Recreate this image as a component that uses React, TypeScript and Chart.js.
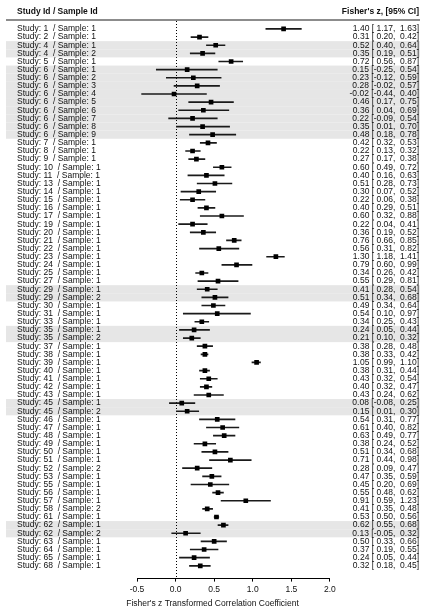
import React, { useEffect, useRef } from "react";
import { Chart, registerables } from "chart.js";

Chart.register(...registerables);

const studyIds = [1, 2, 4, 4, 5, 6, 6, 6, 6, 6, 6, 6, 6, 6, 7, 8, 9, 10, 11, 13, 14, 15, 16, 17, 19, 20, 21, 22, 23, 24, 25, 27, 29, 29, 30, 31, 33, 35, 35, 37, 38, 39, 40, 41, 42, 43, 45, 45, 46, 47, 48, 49, 50, 51, 52, 53, 55, 56, 57, 58, 61, 62, 62, 63, 64, 65, 68];
const sampleIds = [1, 1, 1, 2, 1, 1, 2, 3, 4, 5, 6, 7, 8, 9, 1, 1, 1, 1, 1, 1, 1, 1, 1, 1, 1, 1, 1, 1, 1, 1, 1, 1, 1, 2, 1, 1, 1, 1, 2, 1, 1, 1, 1, 1, 1, 1, 1, 2, 1, 1, 1, 1, 1, 1, 2, 1, 1, 1, 1, 2, 1, 1, 2, 1, 1, 1, 1];
const estimates = [1.40, 0.31, 0.52, 0.35, 0.72, 0.15, 0.23, 0.28, -0.02, 0.46, 0.36, 0.22, 0.35, 0.48, 0.42, 0.22, 0.27, 0.60, 0.40, 0.51, 0.30, 0.22, 0.40, 0.60, 0.22, 0.36, 0.76, 0.56, 1.30, 0.79, 0.34, 0.55, 0.41, 0.51, 0.49, 0.54, 0.34, 0.24, 0.21, 0.38, 0.38, 1.05, 0.38, 0.43, 0.40, 0.43, 0.08, 0.15, 0.54, 0.61, 0.63, 0.38, 0.51, 0.71, 0.28, 0.47, 0.45, 0.55, 0.91, 0.41, 0.53, 0.62, 0.13, 0.50, 0.37, 0.24, 0.32];
const ciLower = [1.17, 0.20, 0.40, 0.19, 0.56, -0.25, -0.12, -0.02, -0.44, 0.17, 0.04, -0.09, 0.01, 0.18, 0.32, 0.13, 0.17, 0.49, 0.16, 0.28, 0.07, 0.06, 0.29, 0.32, 0.04, 0.19, 0.66, 0.31, 1.18, 0.60, 0.26, 0.29, 0.28, 0.34, 0.34, 0.10, 0.25, 0.05, 0.10, 0.28, 0.33, 0.99, 0.31, 0.32, 0.32, 0.24, -0.08, 0.01, 0.31, 0.40, 0.49, 0.24, 0.34, 0.44, 0.09, 0.35, 0.20, 0.48, 0.59, 0.35, 0.50, 0.55, -0.05, 0.33, 0.19, 0.05, 0.18];
const ciUpper = [1.63, 0.42, 0.64, 0.51, 0.87, 0.54, 0.59, 0.57, 0.40, 0.75, 0.69, 0.54, 0.70, 0.78, 0.53, 0.32, 0.38, 0.72, 0.63, 0.73, 0.52, 0.38, 0.51, 0.88, 0.41, 0.52, 0.85, 0.82, 1.41, 0.99, 0.42, 0.81, 0.54, 0.68, 0.64, 0.97, 0.43, 0.44, 0.32, 0.48, 0.42, 1.10, 0.44, 0.54, 0.47, 0.62, 0.25, 0.30, 0.77, 0.82, 0.77, 0.52, 0.68, 0.98, 0.47, 0.59, 0.69, 0.62, 1.23, 0.48, 0.56, 0.68, 0.32, 0.66, 0.55, 0.44, 0.45];
const xTicks = [-0.5, 0, 0.5, 1, 1.5, 2];

const leftHeader = "Study Id / Sample Id";
const rightHeader = "Fisher's z, [95% CI]";
const axisTitle = "Fisher's z Transformed Correlation Coefficient";

const W = 423;
const H = 609;
const FONT = "Liberation Sans, Arial, Helvetica, sans-serif";
const FS = 8.5;

const fmt = (v: number) => v.toFixed(2);
const fmtPad = (v: number) => (v < 0 ? "" : " ") + v.toFixed(2);

export default function App() {
  const ref = useRef<HTMLCanvasElement | null>(null);

  useEffect(() => {
    const canvas = ref.current;
    if (!canvas) return;
    const n = studyIds.length;
    const counts: Record<number, number> = {};
    studyIds.forEach((s) => (counts[s] = (counts[s] || 0) + 1));

    const decor = {
      id: "forestDecor",
      beforeDatasetsDraw(chart: any) {
        const ctx = chart.ctx;
        const x = chart.scales.x;
        const y = chart.scales.y;
        const area = chart.chartArea;
        ctx.save();
        ctx.fillStyle = "#e6e6e6";
        for (let i = 0; i < n; i++) {
          if (counts[studyIds[i]] > 1) {
            const y0 = y.getPixelForValue(i - 0.5);
            const y1 = y.getPixelForValue(i + 0.5);
            ctx.fillRect(6, Math.min(y0, y1), 414, Math.abs(y1 - y0));
          }
        }
        ctx.strokeStyle = "#8c8c8c";
        ctx.lineWidth = 2;
        ctx.beginPath();
        ctx.moveTo(6, area.top);
        ctx.lineTo(420, area.top);
        ctx.stroke();
        ctx.strokeStyle = "#000";
        ctx.lineWidth = 1;
        ctx.setLineDash([1, 2]);
        const x0 = Math.round(x.getPixelForValue(0)) + 0.5;
        ctx.beginPath();
        ctx.moveTo(x0, area.top + 1);
        ctx.lineTo(x0, area.bottom);
        ctx.stroke();
        ctx.setLineDash([]);
        const yb = Math.round(area.bottom) + 0.5;
        ctx.beginPath();
        ctx.moveTo(x.getPixelForValue(xTicks[0]), yb);
        ctx.lineTo(x.getPixelForValue(xTicks[xTicks.length - 1]), yb);
        ctx.stroke();
        ctx.restore();
      },
      afterDatasetsDraw(chart: any) {
        const ctx = chart.ctx;
        const y = chart.scales.y;
        const area = chart.chartArea;
        ctx.save();
        ctx.fillStyle = "#111";
        ctx.textBaseline = "middle";
        ctx.font = `bold ${FS}px ${FONT}`;
        ctx.textAlign = "left";
        ctx.fillText(leftHeader, 17, area.top - 8);
        ctx.textAlign = "right";
        ctx.fillText(rightHeader, 419, area.top - 8);
        ctx.font = `${FS}px ${FONT}`;
        for (let i = 0; i < n; i++) {
          const py = y.getPixelForValue(i);
          ctx.textAlign = "left";
          ctx.fillText(`Study: ${studyIds[i]}  / Sample: ${sampleIds[i]}`, 17, py);
          ctx.textAlign = "right";
          ctx.fillText(`${fmt(estimates[i])} [${fmtPad(ciLower[i])}, ${fmtPad(ciUpper[i])}]`, 419, py);
        }
        ctx.restore();
      },
    };

    const chart = new Chart(canvas, {
      type: "bar",
      data: {
        datasets: [
          {
            type: "scatter",
            data: estimates.map((v, i) => ({ x: v, y: i })),
            pointStyle: "rect",
            pointRadius: 3.3,
            pointBorderWidth: 0,
            backgroundColor: "#000",
            borderColor: "#000",
            order: 0,
          } as any,
          {
            type: "bar",
            data: ciLower.map((lo, i) => ({ x: [lo, ciUpper[i]], y: i })),
            barThickness: 1,
            backgroundColor: "#1a1a1a",
            borderWidth: 0,
            order: 1,
          } as any,
        ],
      },
      options: {
        indexAxis: "y",
        animation: false,
        responsive: false,
        maintainAspectRatio: false,
        layout: { padding: { top: 20, left: 6, right: 3, bottom: 0 } },
        plugins: { legend: { display: false }, tooltip: { enabled: false } },
        scales: {
          x: {
            type: "linear",
            min: -2.198,
            max: 3.155,
            afterBuildTicks: (scale: any) => {
              scale.ticks = xTicks.map((v) => ({ value: v }));
            },
            border: { display: false },
            grid: { drawOnChartArea: false, drawTicks: true, tickLength: 4, color: "#000", lineWidth: 1 },
            ticks: {
              color: "#111",
              font: { family: FONT, size: FS },
              padding: 3,
              autoSkip: false,
              maxRotation: 0,
              callback: (v: any) => Number(v).toFixed(1),
            },
            title: {
              display: true,
              text: axisTitle,
              color: "#111",
              font: { family: FONT, size: FS },
              padding: { top: 1, bottom: 0 },
            },
          },
          y: {
            type: "linear",
            display: false,
            offset: false,
            reverse: true,
            min: -1.1,
            max: 67.45,
          },
        },
      } as any,
      plugins: [decor],
    });
    return () => chart.destroy();
  }, []);

  return (
    <div style={{ position: "fixed", left: 0, top: 0, width: W, height: H, background: "#fff" }}>
      <canvas ref={ref} width={W} height={H} style={{ width: W, height: H, display: "block" }} />
    </div>
  );
}
